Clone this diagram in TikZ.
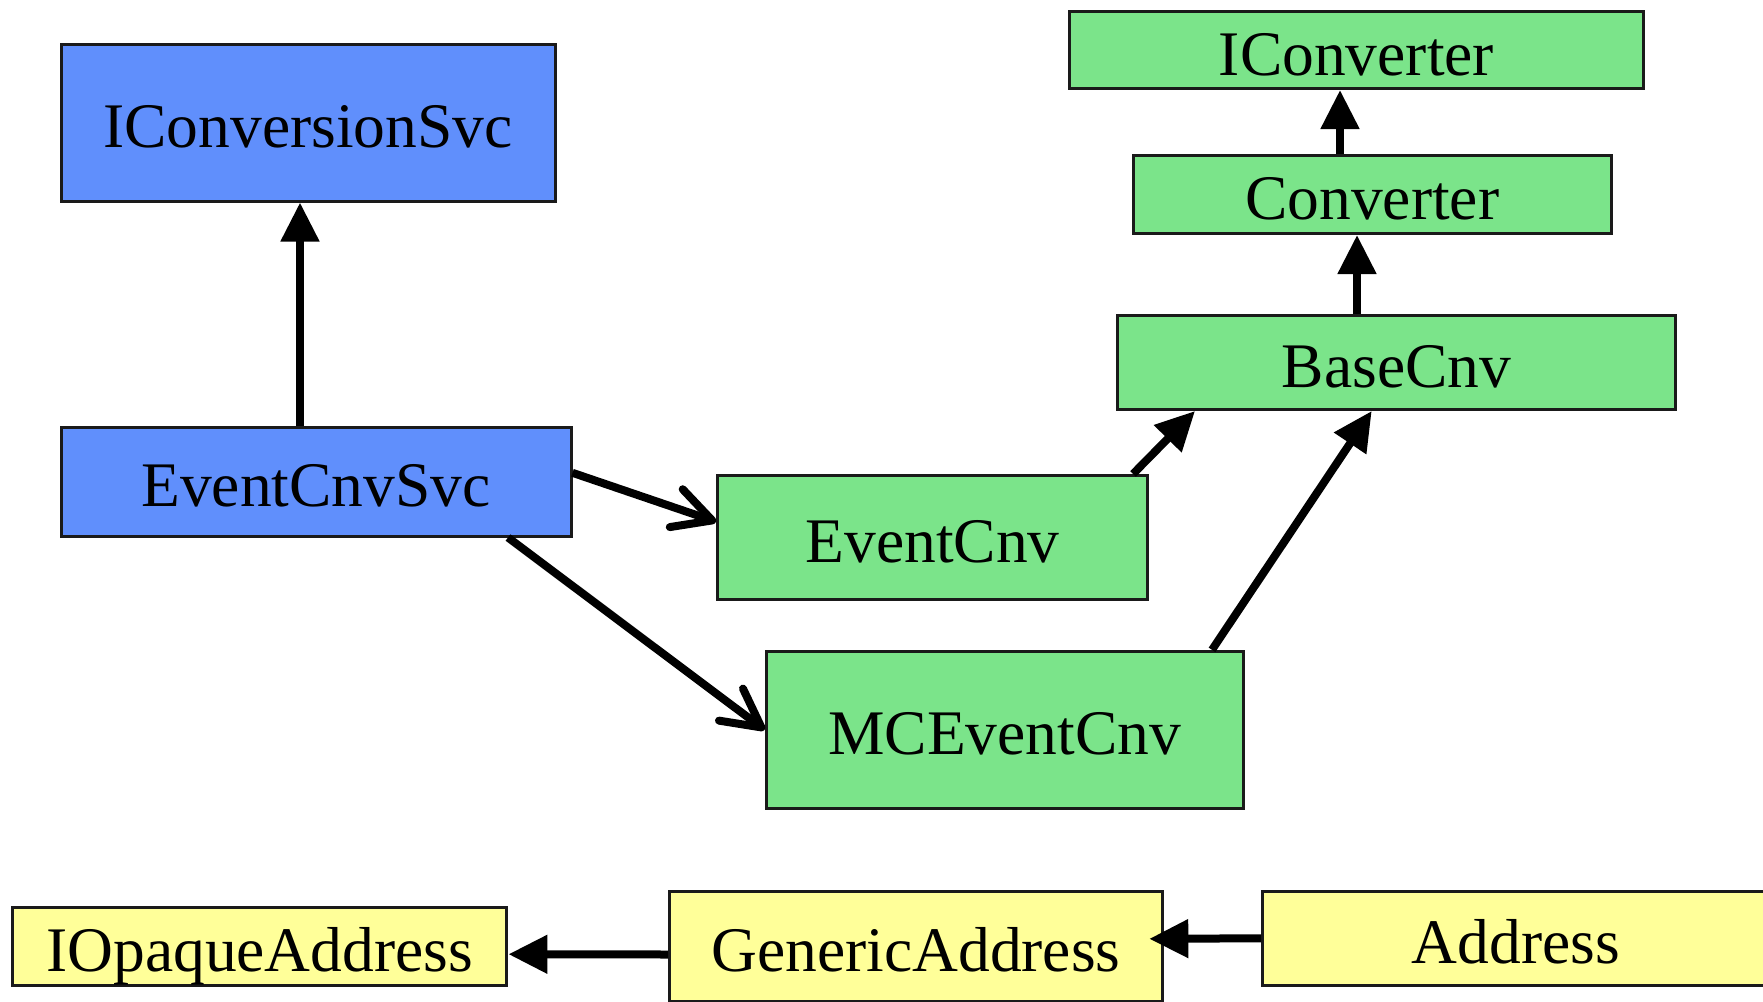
\documentclass[tikz,border=0pt]{standalone}
\usepackage{fontspec}
\setmainfont{Liberation Serif}
\usetikzlibrary{arrows.meta}
\definecolor{cblue}{RGB}{96,143,252}
\definecolor{cgreen}{RGB}{123,228,138}
\definecolor{cyellow}{RGB}{255,255,153}
\definecolor{cborder}{RGB}{26,26,26}
\begin{document}
\begin{tikzpicture}[x=1pt,y=-1pt,
  box/.style={draw=cborder,line width=3pt,inner sep=0pt,text height=50pt,text depth=0pt,
    font=\fontsize{63.5}{70}\selectfont,anchor=center},
  inh/.style={line width=8pt,-{Triangle[length=39pt,width=37pt]}},
  usearrow/.style={line width=8pt,-{Straight Barb[length=38pt,width=40pt,round]}}]
\useasboundingbox (0,0) rectangle (1763,1001);
% blue
\node[box,fill=cblue,minimum width=494pt,minimum height=157pt] (ics) at (308,122.5) {IConversionSvc};
\node[box,fill=cblue,minimum width=510pt,minimum height=108.5pt] (ecs) at (316,481.8) {EventCnvSvc};
% green
\node[box,fill=cgreen,minimum width=574pt,minimum height=77pt] (ic) at (1356.5,50) {IConverter};
\node[box,fill=cgreen,minimum width=478pt,minimum height=78pt] (conv) at (1372.3,194.5) {Converter};
\node[box,fill=cgreen,minimum width=558pt,minimum height=94pt] (bc) at (1396.5,362.5) {BaseCnv};
\node[box,fill=cgreen,minimum width=430pt,minimum height=124.5pt] (ec) at (932.5,537.7) {EventCnv};
\node[box,fill=cgreen,minimum width=477pt,minimum height=157pt] (mce) at (1004.6,729.8) {MCEventCnv};
% yellow
\node[box,fill=cyellow,minimum width=494.5pt,minimum height=78pt] (io) at (259.7,946.2) {IOpaqueAddress};
\node[box,fill=cyellow,minimum width=493pt,minimum height=110pt] (ga) at (916,946.5) {GenericAddress};
\node[box,fill=cyellow,minimum width=507pt,minimum height=94pt] (addr) at (1516,938.3) {Address};
% connectors
\draw[inh] ([xshift=-16pt]ecs.north) -- ([xshift=-8pt]ics.south);
\draw[usearrow] ([yshift=9pt]ecs.east) -- ([yshift=16pt]ec.west);
\draw[usearrow] ([xshift=192pt]ecs.south) -- (mce.west);
\draw[inh] ([xshift=200.5pt]ec.north) -- ([xshift=-201.5pt]bc.south);
\draw[inh] ([xshift=207.4pt]mce.north) -- ([xshift=-24.8pt]bc.south);
\draw[inh] ([xshift=-39.5pt]bc.north) -- ([xshift=-15.3pt]conv.south);
\draw[inh] ([xshift=-32.3pt]conv.north) -- ([xshift=-16.5pt]ic.south);
\draw[inh] ([yshift=-8pt]ga.west) -- ([yshift=-8pt]io.east);
\draw[inh] (addr.west) -- ([xshift=-14.7pt,yshift=7.7pt]ga.east);
\end{tikzpicture}
\end{document}
